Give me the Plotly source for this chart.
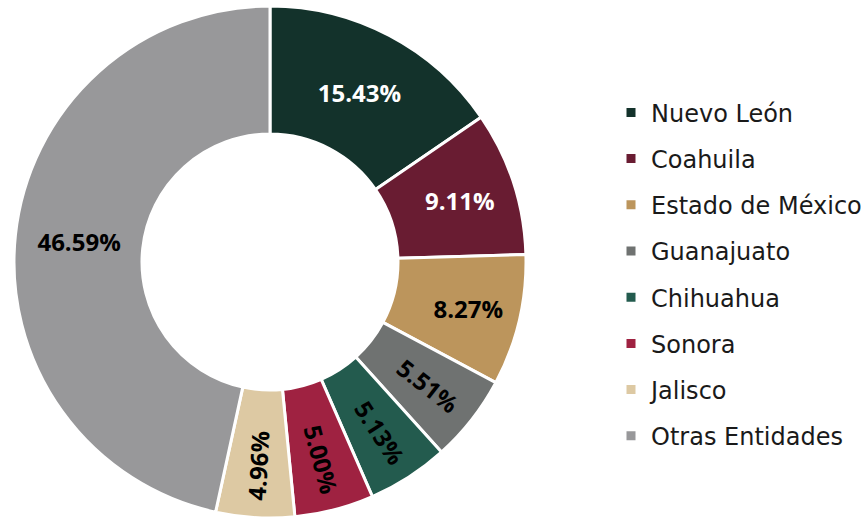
import plotly.graph_objects as go

labels = ["Nuevo León", "Coahuila", "Estado de México", "Guanajuato",
          "Chihuahua", "Sonora", "Jalisco", "Otras Entidades"]
values = [15.43, 9.11, 8.27, 5.51, 5.13, 5.00, 4.96, 46.59]
colors = ["#13322B", "#691C32", "#BC955C", "#6F7271",
          "#235B4E", "#9F2241", "#DDC9A3", "#98989A"]
text_colors = ["#FFFFFF", "#FFFFFF", "#000000", "#000000",
               "#000000", "#000000", "#000000", "#000000"]
# which slices get a radial (rotated) label
radial_label = [False, False, False, True, True, True, True, False]

pct_text = [f"{v:.2f}%" for v in values]
horiz_text = [t if not r else "" for t, r in zip(pct_text, radial_label)]
rad_text = [t if r else "" for t, r in zip(pct_text, radial_label)]

W, H = 867, 518
dom = dict(x=[0, 540 / W], y=[0, 1])
font_lbl = dict(family="Open Sans", size=24, color=text_colors, weight="bold")

fig = go.Figure()
fig.add_trace(go.Pie(
    labels=labels, values=values, sort=False, direction="clockwise",
    hole=0.5,
    marker=dict(colors=colors, line=dict(color="white", width=3)),
    text=horiz_text, textinfo="text",
    textposition="inside", insidetextorientation="horizontal",
    textfont=font_lbl, showlegend=False, domain=dom, hoverinfo="label+value",
))
fig.add_trace(go.Pie(
    labels=labels, values=values, sort=False, direction="clockwise",
    hole=0.5,
    marker=dict(colors=["rgba(0,0,0,0)"] * len(values), line=dict(width=0)),
    text=rad_text, textinfo="text",
    textposition="inside", insidetextorientation="radial",
    textfont=font_lbl, showlegend=False, domain=dom, hoverinfo="skip",
))

for lab, col in zip(labels, colors):
    fig.add_trace(go.Scatter(
        x=[None], y=[None], mode="markers", name=lab, legendgroup=lab,
        marker=dict(symbol="square", size=9, color=col),
    ))

fig.update_layout(
    width=W, height=H,
    margin=dict(l=0, r=0, t=6, b=0, pad=0, autoexpand=False),
    paper_bgcolor="white", plot_bgcolor="white",
    xaxis=dict(visible=False), yaxis=dict(visible=False),
    legend=dict(x=611 / W, y=0.476, xanchor="left", yanchor="middle",
                font=dict(family="DejaVu Sans", size=24, color="#1a1a1a"),
                tracegroupgap=12, itemwidth=30),
)

fig.write_html("out.html", config={"displayModeBar": False},
               post_script="document.body.style.margin='0';document.body.style.overflow='hidden';")
